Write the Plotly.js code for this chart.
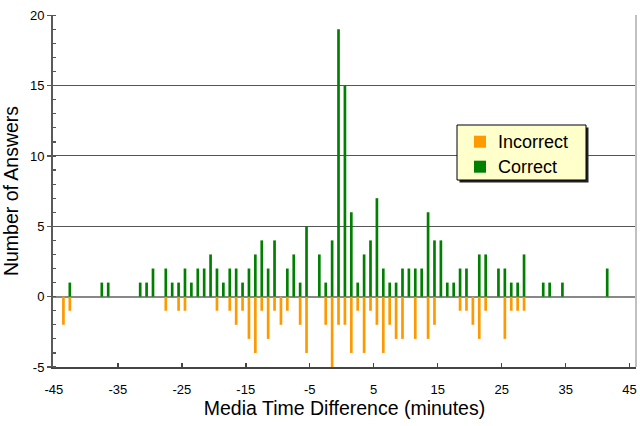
<!DOCTYPE html>
<html>
<head>
<meta charset="utf-8">
<script src="https://cdn.plot.ly/plotly-3.0.1.min.js"></script>
<style>
html,body{margin:0;padding:0;background:#fff;}
#chart{width:640px;height:426px;}
</style>
</head>
<body>
<div id="chart"></div>
<script>
// Bin centres (minutes)
var timeBins = [-43.5,-42.5,-37.5,-36.5,-31.5,-30.5,-29.5,-27.5,-26.5,-25.5,-24.5,-23.5,-22.5,-21.5,-20.5,-19.5,-18.5,-17.5,-16.5,-15.5,-14.5,-13.5,-12.5,-11.5,-10.5,-9.5,-8.5,-7.5,-6.5,-5.5,-3.5,-2.5,-1.5,-0.5,0.5,1.5,2.5,3.5,4.5,5.5,6.5,7.5,8.5,9.5,10.5,11.5,12.5,13.5,14.5,15.5,16.5,17.5,18.5,19.5,20.5,21.5,22.5,24.5,25.5,26.5,27.5,28.5,31.5,32.5,34.5,41.5];
var correctCounts = [0,1,1,1,1,1,2,2,1,1,2,1,2,2,3,2,1,2,2,1,2,3,4,2,4,0,2,3,1,5,3,1,4,19,15,6,1,3,4,7,2,1,1,2,2,2,2,6,4,4,1,1,2,2,0,3,3,2,2,1,1,3,1,1,1,2];
var incorrectCounts = [-2,-1,0,0,0,0,0,-1,0,-1,-1,0,0,0,0,-1,0,-1,-2,-1,-3,-4,-1,-3,-1,-2,-1,0,-2,-4,0,-2,-5,-2,-2,-4,-1,-4,-1,-2,-4,-2,-3,-3,0,-3,0,-3,-2,0,0,0,-1,-1,-2,-3,-1,0,-3,-1,-1,-1,0,0,0,0];
var xTickVals = [-45,-35,-25,-15,-5,5,15,25,35,45];
var yTickVals = [-5,0,5,10,15,20];
var seriesNames = ['Incorrect','Correct'];
var seriesColors = ['#ff9900','#008000'];

var FONT = '"Liberation Sans", Arial, sans-serif';

var traces = [
  {type:'bar', name:seriesNames[0], x:timeBins, y:incorrectCounts, width:0.42,
   marker:{color:seriesColors[0], line:{width:0}}, hoverinfo:'x+y'},
  {type:'bar', name:seriesNames[1], x:timeBins, y:correctCounts, width:0.42,
   marker:{color:seriesColors[1], line:{width:0}}, hoverinfo:'x+y'}
];

// plot-area geometry (px) used to place the drawn legend box
var M = {l:53, r:4, t:15, b:59};
var W = 640, H = 426;
var PW = W - M.l - M.r, PH = H - M.t - M.b;
function xp(px){return (px - M.l)/PW;}
function yp(py){return 1 - (py - M.t)/PH;}

var box = {x0:457, x1:586, y0:125, y1:180};
var shadow = 2.5;
var shapes = [
  {type:'line', xref:'paper', yref:'paper', x0:1, x1:1, y0:0, y1:1,
   line:{color:'#c0c0c0', width:2}},
  {type:'rect', xref:'paper', yref:'paper', layer:'above',
   x0:xp(box.x0+shadow), x1:xp(box.x1+shadow), y0:yp(box.y1+shadow), y1:yp(box.y0+shadow),
   fillcolor:'#222', line:{width:0}},
  {type:'rect', xref:'paper', yref:'paper', layer:'above',
   x0:xp(box.x0), x1:xp(box.x1), y0:yp(box.y1), y1:yp(box.y0),
   fillcolor:'#ffffcc', line:{color:'#000', width:1}}
];
var annotations = [];
var rowY = [141.7, 166.7];
seriesNames.forEach(function(name, i){
  shapes.push({type:'rect', xref:'paper', yref:'paper', layer:'above',
    x0:xp(474), x1:xp(486), y0:yp(rowY[i]+6), y1:yp(rowY[i]-6),
    fillcolor:seriesColors[i], line:{width:0}});
  annotations.push({xref:'paper', yref:'paper', x:xp(496), y:yp(rowY[i]),
    xanchor:'left', yanchor:'middle', showarrow:false, text:name,
    font:{family:FONT, size:18, color:'#000'}});
});

var layout = {
  width:W, height:H,
  margin:{l:M.l, r:M.r, t:M.t, b:M.b, pad:0},
  paper_bgcolor:'#ffffff', plot_bgcolor:'#ffffff',
  barmode:'relative',
  font:{family:FONT, color:'#000', size:13},
  showlegend:false,
  xaxis:{
    range:[-45.13, 46.0],
    tickmode:'array', tickvals:xTickVals, ticktext:xTickVals.map(String),
    ticks:'inside', ticklen:4, tickwidth:1.5, tickcolor:'#444',
    showline:true, linecolor:'#444', linewidth:2,
    showgrid:false, zeroline:false,
    tickfont:{family:FONT, size:13, color:'#000'},
    ticklabelstandoff:9,
    title:{text:'Media Time Difference (minutes)', font:{family:FONT, size:19.5, color:'#000'}, standoff:6}
  },
  yaxis:{
    range:[-5, 20.02],
    tickmode:'array', tickvals:yTickVals, ticktext:yTickVals.map(String),
    ticks:'outside', ticklen:4, tickwidth:1.5, tickcolor:'#555',
    minor:{dtick:1, ticks:'inside', ticklen:3, tickwidth:1.2, tickcolor:'#555', showgrid:false},
    showline:true, linecolor:'#5a5a5a', linewidth:2,
    showgrid:true, gridcolor:'#555', gridwidth:1,
    zeroline:true, zerolinecolor:'#888', zerolinewidth:2,
    tickfont:{family:FONT, size:13, color:'#000'},
    title:{text:'Number of Answers', font:{family:FONT, size:19.5, color:'#000'}, standoff:9}
  },
  shapes:shapes,
  annotations:annotations
};

Plotly.newPlot('chart', traces, layout, {displayModeBar:false, staticPlot:true});
</script>
</body>
</html>
